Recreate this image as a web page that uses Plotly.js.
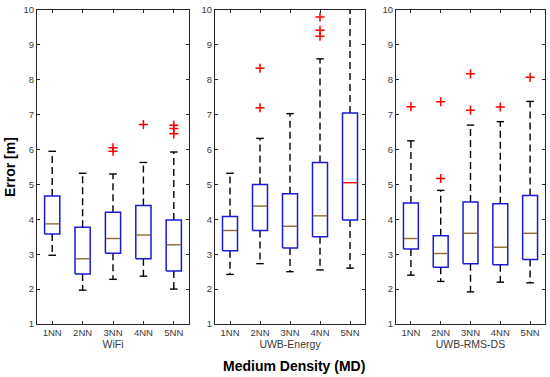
<!DOCTYPE html>
<html>
<head>
<meta charset="utf-8">
<script src="https://cdn.plot.ly/plotly-3.0.1.min.js"></script>
<style>html,body{margin:0;padding:0;background:#fff;}#chart{width:550px;height:377px;}</style>
</head>
<body>
<div id="chart"></div>
<script>
const categories = ['1NN', '2NN', '3NN', '4NN', '5NN'];
const panelNames = ['WiFi', 'UWB-Energy', 'UWB-RMS-DS'];

const wifiLower   = [2.97, 1.97, 2.28, 2.37, 2.00];
const wifiQ1      = [3.58, 2.43, 3.03, 2.87, 2.52];
const wifiMedian  = [3.87, 2.87, 3.45, 3.55, 3.27];
const wifiQ3      = [4.67, 3.77, 4.20, 4.40, 3.98];
const wifiUpper   = [5.95, 5.32, 5.30, 5.63, 5.93];
const wifiOutliers = [[], [], [6.05, 5.95], [6.72], [6.70, 6.60, 6.45]];

const energyLower   = [2.42, 2.73, 2.50, 2.55, 2.60];
const energyQ1      = [3.10, 3.68, 3.18, 3.50, 3.98];
const energyMedian  = [3.68, 4.38, 3.80, 4.10, 5.05];
const energyQ3      = [4.08, 5.00, 4.73, 5.63, 7.05];
const energyUpper   = [5.32, 6.32, 7.03, 8.60, 10.3];
const energyOutliers = [[], [8.33, 7.20], [], [9.80, 9.42, 9.25], []];

const rmsLower   = [2.40, 2.22, 1.92, 2.20, 2.18];
const rmsQ1      = [3.15, 2.63, 2.73, 2.70, 2.85];
const rmsMedian  = [3.45, 3.02, 3.60, 3.20, 3.60];
const rmsQ3      = [4.47, 3.53, 4.50, 4.45, 4.68];
const rmsUpper   = [6.25, 4.83, 6.70, 6.80, 7.38];
const rmsOutliers = [[7.23], [7.37, 5.17], [8.17, 7.13], [7.22], [8.07]];

const panels = [
  {lower: wifiLower, q1: wifiQ1, med: wifiMedian, q3: wifiQ3, upper: wifiUpper, out: wifiOutliers},
  {lower: energyLower, q1: energyQ1, med: energyMedian, q3: energyQ3, upper: energyUpper, out: energyOutliers},
  {lower: rmsLower, q1: rmsQ1, med: rmsMedian, q3: rmsQ3, upper: rmsUpper, out: rmsOutliers}
];

// styling (not data)
const BOX_HALF = 0.25, CAP_HALF = 0.125;
const BLUE = '#1a1ad6', BROWN = '#8d6b30', RED = '#ff0000', AX = '#262626', TXT = '#3a3a3a';
const redMedian = {1: [4]}; // panel index -> category indices with red median

const traces = [];
panels.forEach((p, pi) => {
  const xa = pi === 0 ? 'x' : 'x' + (pi + 1);
  const ya = pi === 0 ? 'y' : 'y' + (pi + 1);
  const pos = categories.map((c, i) => i + 1);
  const wx = [], wy = [], cx = [], cy = [], bx = [], by = [];
  const mxB = [], myB = [], mxR = [], myR = [], ox = [], oy = [];
  pos.forEach((x, i) => {
    wx.push(x, x, null, x, x, null);
    wy.push(p.q3[i], p.upper[i], null, p.q1[i], p.lower[i], null);
    cx.push(x - CAP_HALF, x + CAP_HALF, null, x - CAP_HALF, x + CAP_HALF, null);
    cy.push(p.upper[i], p.upper[i], null, p.lower[i], p.lower[i], null);
    bx.push(x - BOX_HALF, x + BOX_HALF, x + BOX_HALF, x - BOX_HALF, x - BOX_HALF, null);
    by.push(p.q1[i], p.q1[i], p.q3[i], p.q3[i], p.q1[i], null);
    const isRed = (redMedian[pi] || []).includes(i);
    (isRed ? mxR : mxB).push(x - BOX_HALF + 0.02, x + BOX_HALF - 0.02, null);
    (isRed ? myR : myB).push(p.med[i], p.med[i], null);
    p.out[i].forEach(v => { ox.push(x); oy.push(v); });
  });
  const base = {xaxis: xa, yaxis: ya, type: 'scatter', hoverinfo: 'skip', showlegend: false};
  traces.push(Object.assign({}, base, {x: wx, y: wy, mode: 'lines', line: {color: '#000', width: 1.4, dash: '7px,4px'}}));
  traces.push(Object.assign({}, base, {x: cx, y: cy, mode: 'lines', line: {color: '#000', width: 1.4}}));
  traces.push(Object.assign({}, base, {x: bx, y: by, mode: 'lines', fill: 'none', line: {color: BLUE, width: 1.5}}));
  traces.push(Object.assign({}, base, {x: mxB, y: myB, mode: 'lines', line: {color: BROWN, width: 1.4}}));
  if (mxR.length) traces.push(Object.assign({}, base, {x: mxR, y: myR, mode: 'lines', line: {color: RED, width: 1.4}}));
  traces.push(Object.assign({}, base, {x: ox, y: oy, mode: 'markers', cliponaxis: false,
    marker: {symbol: 'cross-thin', size: 6.5, line: {color: RED, width: 1.5}, color: RED}}));
});

const FONT = 'Liberation Sans, Arial, Helvetica, sans-serif';
const domains = [[0, 0.2992], [0.3504, 0.6457], [0.7067, 1]];
const layout = {
  width: 550, height: 377,
  margin: {l: 37, r: 5, t: 9.5, b: 52.5},
  paper_bgcolor: '#fff', plot_bgcolor: '#fff',
  font: {family: FONT, size: 9.5, color: TXT},
  showlegend: false,
  annotations: [
    {text: 'Error [m]', xref: 'paper', yref: 'paper', x: -0.053, y: 0.5, xanchor: 'center', yanchor: 'middle',
     textangle: -90, showarrow: false, font: {family: FONT, size: 14, color: '#000', weight: 'bold'}},
    {text: 'Medium Density (MD)', xref: 'paper', yref: 'paper', x: 0.506, y: -0.135, xanchor: 'center', yanchor: 'middle',
     showarrow: false, font: {family: FONT, size: 14, color: '#000', weight: 'bold'}}
  ]
};
panelNames.forEach((name, pi) => {
  const sfx = pi === 0 ? '' : String(pi + 1);
  layout['xaxis' + sfx] = {
    domain: domains[pi], anchor: 'y' + sfx, range: [0.5, 5.5],
    tickvals: categories.map((c, i) => i + 1), ticktext: categories,
    ticks: 'inside', ticklen: 3, tickcolor: AX, showline: true, linecolor: AX, linewidth: 1,
    mirror: 'ticks', showgrid: false, zeroline: false, fixedrange: true,
    tickfont: {family: FONT, size: 9.5, color: TXT},
    title: {text: name, font: {family: FONT, size: 10.5, color: TXT}, standoff: 2}
  };
  layout['yaxis' + sfx] = {
    anchor: 'x' + sfx, range: [1, 10], dtick: 1, tick0: 1,
    ticks: 'inside', ticklen: 3, tickcolor: AX, showline: true, linecolor: AX, linewidth: 1,
    mirror: 'ticks', showgrid: false, zeroline: false, fixedrange: true,
    tickfont: {family: FONT, size: 9.5, color: TXT}
  };
});

Plotly.newPlot('chart', traces, layout, {staticPlot: true, displayModeBar: false});
</script>
</body>
</html>
